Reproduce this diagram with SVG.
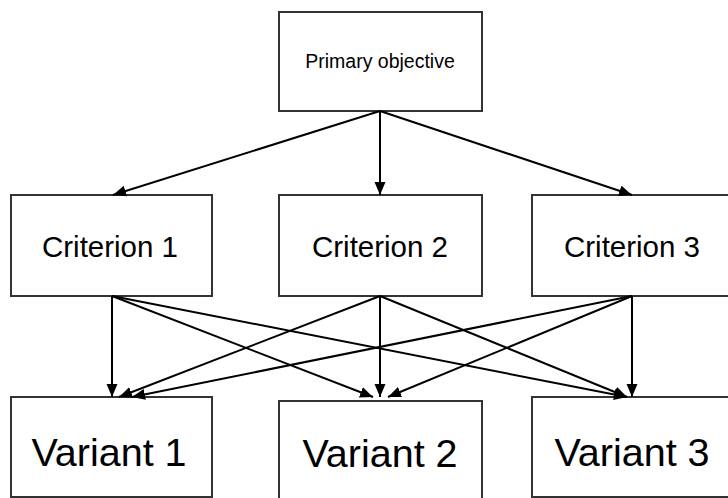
<svg xmlns="http://www.w3.org/2000/svg" width="728" height="498" viewBox="0 0 728 498">
  <style>
    .box { fill: #ffffff; stroke: #333333; stroke-width: 2; }
    .t { font-family: "Liberation Sans", Arial, sans-serif; fill: #000000; text-anchor: middle; }
    .p { font-size: 19.5px; }
    .c { font-size: 29.5px; }
    .v { font-size: 39.5px; }
    .edge { stroke: #000000; stroke-width: 2; fill: none; marker-end: url(#arr); }
  </style>
  <defs>
    <marker id="arr" markerUnits="userSpaceOnUse" markerWidth="14" markerHeight="12" refX="13" refY="5.5" orient="auto">
      <path d="M0,0 L13,5.5 L0,11 z" fill="#000000"/>
    </marker>
  </defs>
  <rect width="728" height="498" fill="#ffffff"/>

  <g id="primary">
    <rect class="box" x="279" y="12" width="203" height="99"/>
    <text class="t p" x="380" y="68">Primary objective</text>
  </g>
  <g id="criterion1">
    <rect class="box" x="11" y="195" width="201" height="101"/>
    <text class="t c" x="110" y="257">Criterion 1</text>
  </g>
  <g id="criterion2">
    <rect class="box" x="279" y="195" width="203" height="101"/>
    <text class="t c" x="380" y="257">Criterion 2</text>
  </g>
  <g id="criterion3">
    <rect class="box" x="532" y="195" width="201" height="101"/>
    <text class="t c" x="632" y="257">Criterion 3</text>
  </g>
  <g id="variant1">
    <rect class="box" x="11" y="397" width="201" height="100"/>
    <text class="t v" x="109" y="466">Variant 1</text>
  </g>
  <g id="variant2">
    <rect class="box" x="279" y="401" width="203" height="102"/>
    <text class="t v" x="380" y="467">Variant 2</text>
  </g>
  <g id="variant3">
    <rect class="box" x="532" y="397" width="201" height="100"/>
    <text class="t v" x="632" y="466">Variant 3</text>
  </g>

  <g id="connectors">
    <line class="edge" x1="380" y1="111" x2="113" y2="195"/>
    <line class="edge" x1="380" y1="111" x2="380" y2="195"/>
    <line class="edge" x1="380" y1="111" x2="632" y2="195"/>
    <line class="edge" x1="112" y1="296" x2="112" y2="397"/>
    <line class="edge" x1="112" y1="296" x2="373" y2="397"/>
    <line class="edge" x1="112" y1="296" x2="627" y2="397"/>
    <line class="edge" x1="380" y1="296" x2="119" y2="397"/>
    <line class="edge" x1="380" y1="296" x2="380" y2="397"/>
    <line class="edge" x1="380" y1="296" x2="627" y2="397"/>
    <line class="edge" x1="632" y1="296" x2="132" y2="397"/>
    <line class="edge" x1="632" y1="296" x2="388" y2="397"/>
    <line class="edge" x1="632" y1="296" x2="632" y2="397"/>
  </g>
</svg>
